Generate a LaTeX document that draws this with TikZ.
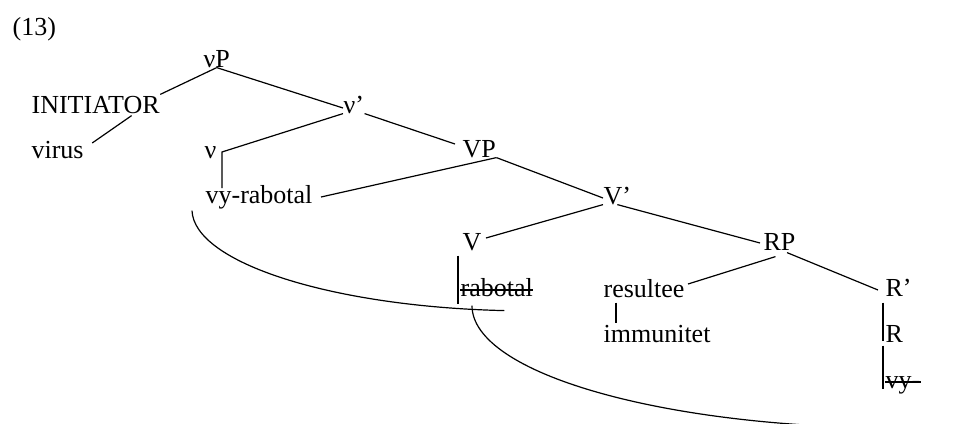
\documentclass[tikz,border=0pt]{standalone}
\usepackage{fontspec}
\setmainfont{Liberation Serif}
\usepackage{tikz}

\begin{document}
\begin{tikzpicture}[
  x=0.5pt,y=-0.5pt,line width=0.6pt,
  every node/.style={inner sep=0pt,anchor=base west,text height=9pt,text depth=0pt,
    font=\fontsize{13pt}{15pt}\selectfont}
]
\useasboundingbox (0,0) rectangle (974,423);
\node (ex) at (12,35) {(13)};
\node (vP) at (203,67) {νP};
\node (init) at (31,113) {INITIATOR};
\node (vbar) at (343,113) {ν’};
\node (virus) at (31,158) {virus};
\node (v) at (204,158) {ν};
\node (vyrab) at (205,203) {vy-rabotal};
\node (VP) at (462,157) {VP};
\node (Vbar) at (603,204) {V’};
\node (V) at (462,250) {V};
\node (RP) at (763,250) {RP};
\node (rab) at (460,296) {rabotal};
\node (res) at (603,297) {resultee};
\node (imm) at (603,342) {immunitet};
\node (Rbar) at (885,296) {R’};
\node (R) at (885,342) {R};
\node (vy) at (885,388) {vy-};
\coordinate (tail) at (900,428);

\draw (vP.south) -- (init.north east);
\draw (vP.south) -- ([shift={(0,4)}]vbar.west);
\draw ([shift={(36,2)}]init.south) -- ([shift={(8,-6)}]virus.east);
\draw (vbar.south west) -- ([shift={(5,3)}]v.east) -- ++(0,36);
\draw (vbar.south east) -- ([shift={(-7,-4)}]VP.west);
\draw (VP.south east) -- ([shift={(8,3)}]vyrab.east);
\draw (VP.south east) -- ([shift={(0,3)}]Vbar.west);
\draw (Vbar.south west) -- ([shift={(4,-3)}]V.east);
\draw (Vbar.south) -- ([shift={(-3,2)}]RP.west);
\draw ([shift={(-4,6)}]RP.south) -- ([shift={(3,-4)}]res.east);
\draw ([shift={(-9,2)}]RP.south east) -- ([shift={(-7,3)}]Rbar.west);
\draw ([shift={(-2,6)}]Rbar.south west) -- ([shift={(-2,-2)}]R.south west);
\draw ([shift={(-2,3)}]R.south west) -- ([shift={(-2,0)}]vy.south west);
\draw ([shift={(13,5)}]res.south west) -- ([shift={(13,0)}]imm.north west);
\draw ([shift={(-4,5)}]V.south west) -- ([shift={(-2,7)}]rab.south west);

\foreach \n in {rab,vy}
  \draw ([shift={(0,-6)}]\n.base west) -- ([shift={(0,-6)}]\n.base east);

\draw ([shift={(-13,7)}]vyrab.south west) .. controls +(2,52) and +(-173,-4) .. ([shift={(-29,14)}]rab.south east);
\draw ([shift={(12,9)}]rab.south west) .. controls +(0,68) and +(-236,0) .. (tail);
\end{tikzpicture}
\end{document}
